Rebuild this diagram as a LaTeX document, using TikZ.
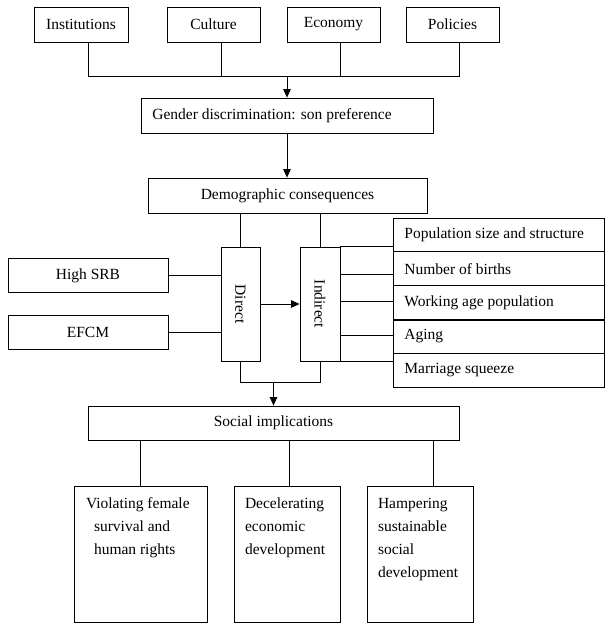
\documentclass[tikz,border=0pt]{standalone}
\usepackage{fontspec}
\setmainfont{Liberation Serif}
\usetikzlibrary{arrows.meta}
\begin{document}
\begin{tikzpicture}[x=1pt,y=-1pt, line width=0.8pt,
  box/.style={draw, inner sep=0pt, font=\fontsize{15.5}{18}\selectfont},
  lbl/.style={inner sep=0pt, anchor=west, font=\fontsize{15.5}{18}\selectfont},
  para/.style={inner sep=0pt, anchor=north west, align=left, font=\fontsize{15.5}{23}\selectfont},
  arr/.style={-{Triangle[length=8.5pt,width=7.5pt]}},
  thick line/.style={line width=1.6pt}
  ]
\useasboundingbox (0,0) rectangle (607,630);
% top row
\node[box, minimum width=94pt, minimum height=35pt] (inst) at (81,24.5) {Institutions};
\node[box, minimum width=93pt, minimum height=35pt] (cult) at (213.5,24.5) {Culture};
\node[box, minimum width=93pt, minimum height=35pt] (econ) at (333.5,24.5) {Economy};
\node[box, minimum width=93pt, minimum height=35pt] (pol) at (452.5,24.5) {Policies};
% gender
\node[box, minimum width=292pt, minimum height=35pt] (gend) at (287,115.5) {};
\node[lbl] (gendt) at (152,115.5) {Gender discrimination: son preference};
% demographic
\node[box, minimum width=279pt, minimum height=35pt] (demo) at (287.5,195.5) {Demographic consequences};
% direct / indirect
\node[box, minimum width=39pt, minimum height=114pt] (direct) at (240.5,304) {};
\node[rotate=-90, inner sep=0pt, font=\fontsize{15.5}{18}\selectfont] (directt) at (direct.center) {Direct};
\node[box, minimum width=40pt, minimum height=114pt] (indirect) at (320,304) {};
\node[rotate=-90, inner sep=0pt, font=\fontsize{15.5}{18}\selectfont] (indirectt) at (indirect.center) {Indirect};
% left boxes
\node[box, minimum width=160pt, minimum height=34pt] (hsrb) at (88,275.5) {High SRB};
\node[box, minimum width=160pt, minimum height=34pt] (efcm) at (88,332.5) {EFCM};
% right boxes
\node[box, minimum width=211pt, minimum height=33.8pt] (pop) at (498.5,234.9) {};
\node[box, minimum width=211pt, minimum height=33.8pt] (births) at (498.5,268.7) {};
\node[box, minimum width=211pt, minimum height=33.8pt] (work) at (498.5,302.5) {};
\node[box, minimum width=211pt, minimum height=33.8pt] (aging) at (498.5,336.3) {};
\node[box, minimum width=211pt, minimum height=33.8pt] (marr) at (498.5,370.1) {};
\node[lbl] (popt) at (404,234.9) {Population size and structure};
\node[lbl] (birthst) at (404,268.7) {Number of births};
\node[lbl] (workt) at (404,302.5) {Working age population};
\node[lbl] (agingt) at (404,336.3) {Aging};
\node[lbl] (marrt) at (404,370.1) {Marriage squeeze};
\draw[thick line] (work.south west) -- (work.south east);
\draw[thick line] (aging.south west) -- (aging.south east);
% social
\node[box, minimum width=371pt, minimum height=34pt] (social) at (273.5,423) {Social implications};
% bottom boxes
\node[box, minimum width=133pt, minimum height=136pt] (b1) at (140.5,554) {};
\node[box, minimum width=106pt, minimum height=136pt] (b2) at (287,554) {};
\node[box, minimum width=106pt, minimum height=136pt] (b3) at (420,554) {};
\node[para] (b1t) at ([xshift=12pt,yshift=-12pt]b1.north west) {Violating female\\\hspace*{8pt}survival and\\\hspace*{8pt}human rights};
\node[para] (b2t) at ([xshift=11pt,yshift=-12pt]b2.north west) {Decelerating\\economic\\development};
\node[para] (b3t) at ([xshift=11pt,yshift=-12pt]b3.north west) {Hampering\\sustainable\\social\\development};

% connectors top
\coordinate (top) at (287,76);
\coordinate (ti) at ([xshift=7pt]inst.south);
\coordinate (tc) at ([xshift=7.5pt]cult.south);
\coordinate (te) at ([xshift=6.5pt]econ.south);
\coordinate (tp) at ([xshift=7pt]pol.south);
\draw (ti) -- (ti |- top) -- (tp |- top) -- (tp);
\draw (tc) -- (tc |- top);
\draw (te) -- (te |- top);
\draw[arr] (top) -- (gend.north);
\draw[arr] (gend.south) -- (gend.south |- demo.north);
% demo to direct/indirect
\draw (demo.south -| direct.north) -- (direct.north);
\draw (demo.south -| indirect.north) -- (indirect.north);
\draw (hsrb.east) -- (hsrb.east -| direct.west);
\draw (efcm.east) -- (efcm.east -| direct.west);
\draw[arr] (direct.east) -- (indirect.west);
% indirect to right boxes
\coordinate (r1) at (indirect.north east);
\coordinate (r2) at ([yshift=-28pt]indirect.north east);
\coordinate (r3) at ([yshift=-55pt]indirect.north east);
\coordinate (r4) at ([yshift=-89pt]indirect.north east);
\coordinate (r5) at (indirect.south east);
\draw (r1) -- (r1 -| pop.west);
\draw (r2) -- (r2 -| births.west);
\draw (r3) -- (r3 -| work.west);
\draw (r4) -- (r4 -| aging.west);
\draw (r5) -- (r5 -| marr.west);
% to social
\coordinate (dj) at ([yshift=-21pt]direct.south);
\coordinate (ij) at ([yshift=-21pt]indirect.south);
\draw (direct.south) -- (dj) -- (ij) -- (indirect.south);
\draw[arr] (dj -| social.north) -- (social.north);
% social to bottom
\coordinate (s1) at (b1.north);
\coordinate (s2) at ([xshift=2pt]b2.north);
\coordinate (s3) at ([xshift=13pt]b3.north);
\draw (s1 |- social.south) -- (s1);
\draw (s2 |- social.south) -- (s2);
\draw (s3 |- social.south) -- (s3);
\end{tikzpicture}
\end{document}
